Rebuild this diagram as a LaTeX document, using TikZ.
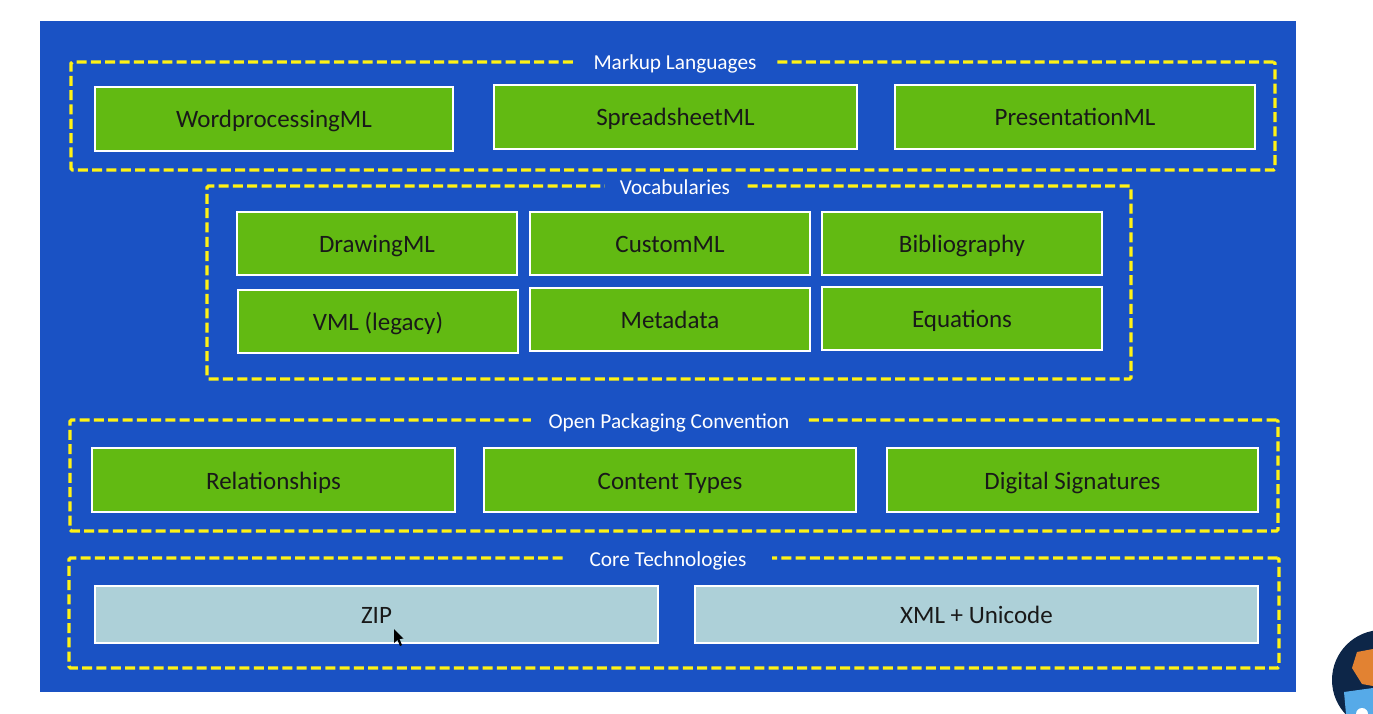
\documentclass[tikz,border=0pt]{standalone}
\usepackage{fontspec}
\setmainfont{Carlito}
\usepackage{xcolor}
\definecolor{dfbg}{RGB}{26,82,196}
\definecolor{dfgreen}{RGB}{98,186,18}
\definecolor{dfteal}{RGB}{173,208,216}
\definecolor{dfyellow}{RGB}{255,242,20}
\definecolor{dfnavy}{RGB}{13,38,72}
\definecolor{dforange}{RGB}{226,130,50}
\definecolor{dfsky}{RGB}{86,170,232}
\tikzstyle{mlbox} = [rectangle, inner sep=0pt, text centered, draw=white, fill=dfgreen, line width=2.2pt, font=\fontsize{25}{27}\selectfont, text=black!90, text height=18pt, text depth=0pt]
\tikzstyle{corebox} = [mlbox, fill=dfteal]
\tikzstyle{group} = [rectangle, inner sep=0pt, draw=dfyellow, line width=3.2pt, dash pattern=on 10pt off 4.3pt, rounded corners=1.5pt]
\tikzstyle{grouptitle} = [fill=dfbg, text=white, inner xsep=12pt, inner ysep=1pt, font=\fontsize{21.3}{23}\selectfont, text height=16pt, text depth=0pt]
\begin{document}
\begin{tikzpicture}[x=1pt,y=-1pt]
\useasboundingbox (0,0) rectangle (1373,714);
\fill[white] (0,0) rectangle (1373,714);
\fill[dfbg] (40,21) rectangle (1296,692);

% Markup languages
\node[group, minimum width=1204pt, minimum height=108pt] (markup) at (673,116) {};
\node[grouptitle, inner xsep=20pt] (markuptitle) at (675,62) {Markup Languages};
\node[mlbox, minimum width=358pt, minimum height=64pt] (wordml) at (274,119) {WordprocessingML};
\node[mlbox, minimum width=363pt, minimum height=64pt] (sheetml) at (675.5,117) {SpreadsheetML};
\node[mlbox, minimum width=360pt, minimum height=64pt] (presentml) at (1075,117) {PresentationML};

% Vocabularies
\node[group, minimum width=924pt, minimum height=193pt] (vocab) at (669,282.5) {};
\node[grouptitle, inner xsep=15pt] (vocabtitle) at (675,187) {Vocabularies};
\node[mlbox, minimum width=280pt, minimum height=63pt] (drawml) at (377,243.5) {DrawingML};
\node[mlbox, minimum width=280pt, minimum height=63pt] (customml) at (670,243.5) {CustomML};
\node[mlbox, minimum width=280pt, minimum height=63pt] (biblio) at (962,243.5) {Bibliography};
\node[mlbox, minimum width=280pt, minimum height=63pt] (vml) at (378,321.5) {VML (legacy)};
\node[mlbox, minimum width=280pt, minimum height=63pt] (metadata) at (670,319.5) {Metadata};
\node[mlbox, minimum width=280pt, minimum height=63pt] (equations) at (962,318.5) {Equations};

% Open packaging
\node[group, minimum width=1208pt, minimum height=111pt] (opc) at (674,475.5) {};
\node[grouptitle, inner xsep=18pt] (opctitle) at (669,420) {Open Packaging Convention};
\node[mlbox, minimum width=363pt, minimum height=64pt] (rels) at (273.5,480) {Relationships};
\node[mlbox, minimum width=372pt, minimum height=64pt] (ctypes) at (670,480) {Content Types};
\node[mlbox, minimum width=371pt, minimum height=64pt] (digsig) at (1072.5,480) {Digital Signatures};

% Core
\node[group, minimum width=1210pt, minimum height=110pt] (core) at (674,613) {};
\node[grouptitle, inner xsep=26pt] (coretitle) at (668,558) {Core Technologies};
\node[corebox, minimum width=563pt, minimum height=57pt] (zip) at (376.5,614.5) {ZIP};
\node[corebox, minimum width=563pt, minimum height=57pt] (xml) at (976.5,614.5) {XML + Unicode};

% Pointer
\fill[black] (394,629) -- (394,643) -- (397.5,640) -- (400,646) -- (402,645) -- (399.5,639) -- (403.5,638.5) -- cycle;

% Badge in the corner
\fill[dfnavy] (1382,680) circle (50pt);
\fill[dforange] (1357,652) -- (1373,649) -- (1373,686) -- (1362,684) -- (1352,668) -- cycle;
\fill[dfsky] (1344,692) -- (1373,688) -- (1373,714) -- (1346,714) -- cycle;
\fill[white] (1362,714) circle (6pt);
\end{tikzpicture}
\end{document}
